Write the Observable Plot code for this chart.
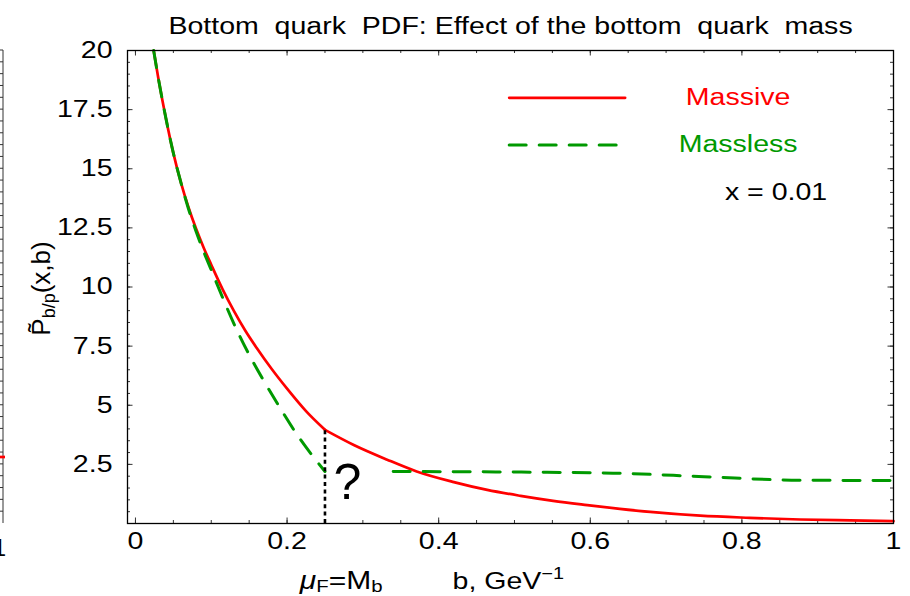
<!DOCTYPE html>
<html><head><meta charset="utf-8">
<script src="https://cdn.jsdelivr.net/npm/d3@7"></script>
<script src="https://cdn.jsdelivr.net/npm/@observablehq/plot@0.6"></script>
<style>body{margin:0;background:#fff} svg{display:block}</style>
</head><body>
<div id="chart"></div>
<script>
// ---- data ----
const massiveB = [0.024,0.03,0.04,0.05,0.06,0.07,0.08,0.09,0.1,0.115,0.13,0.145,0.16,0.18,0.2,0.225,0.25,
                  0.288,0.332,0.371,0.42,0.464,0.508,0.551,0.596,0.639,0.679,0.745,0.81,0.877,0.943,1];
const massiveP = [20,18.86,17.16,15.66,14.41,13.36,12.46,11.66,10.94,9.9,8.98,8.15,7.42,6.52,5.7,4.75,3.96,
                  3.32,2.70,2.2,1.75,1.42,1.17,0.96,0.78,0.62,0.49,0.33,0.24,0.17,0.13,0.1];
const masslessB1 = [0.024,0.03,0.04,0.05,0.06,0.07,0.08,0.09,0.1,0.115,0.132,0.149,0.169,0.189,0.211,0.25];
const masslessP1 = [20,18.86,17.16,15.66,14.41,13.3,12.35,11.5,10.72,9.55,8.3,7.2,6.05,4.98,3.86,2.2];
const masslessB2 = [0.34,0.48,0.63,0.75,0.876,1];
const masslessP2 = [2.20,2.18,2.13,1.98,1.83,1.82];
const matchingB = 0.25; // mu_F = M_b
const xTickLabels = [0,0.2,0.4,0.6,0.8,1];
const yTickLabels = [2.5,5,7.5,10,12.5,15,17.5,20];
const xMinorTicks = d3.range(0, 1.0001, 0.05);
const yMinorTicks = d3.range(0.5, 20.0001, 0.5);
const seriesNames = ["Massive","Massless"];
const noteText = "x = 0.01";
const titleText = "Bottom\u00A0 quark\u00A0 PDF: Effect of the bottom\u00A0 quark\u00A0 mass";

// ---- tables ----
const massive = massiveB.map((b,i)=>({b, p: massiveP[i]}));
const massiveLow = massive.filter(d => d.b <= matchingB);
const massiveHigh = massive.filter(d => d.b >= matchingB);
const massless1 = masslessB1.map((b,i)=>({b, p: masslessP1[i]}));
const massless2 = masslessB2.map((b,i)=>({b, p: masslessP2[i]}));
const pAtMatch = massiveP[massiveB.indexOf(matchingB)];

const RED = "#ff0000", GREEN = "#009900";
const FONT = "'Liberation Sans', Arial, Helvetica, sans-serif";
const W = 910, H = 596, ML = 127, MR = 17, MT = 50, MB = 73;
const PW = W - ML - MR, PH = H - MT - MB;
const FS = 23, STRETCH = 1.24;
const fmt = d => String(d);

// legend layout (in plot coordinates)
const legendX1 = 0.493, legendX2a = 0.646, legendX2b = 0.635, legendTextX = 0.795;
const legendY = [18, 16], noteY = 14, noteX = 0.845;

const chart = Plot.plot({
  width: W, height: H,
  marginLeft: ML, marginRight: MR, marginTop: MT, marginBottom: MB,
  style: {fontFamily: FONT, background: "#fff"},
  x: {domain: [-0.0105, 1], axis: null},
  y: {domain: [0, 20], axis: null},
  marks: [
    // inward ticks on all four sides
    Plot.tickX(xMinorTicks, {x: d=>d, insetTop: PH - 3, stroke: "#333", strokeWidth: 1}),
    Plot.tickX(xTickLabels, {x: d=>d, insetTop: PH - 5.5, stroke: "#333", strokeWidth: 1}),
    Plot.tickX(xMinorTicks, {x: d=>d, insetBottom: PH - 3, stroke: "#333", strokeWidth: 1}),
    Plot.tickX(xTickLabels, {x: d=>d, insetBottom: PH - 5.5, stroke: "#333", strokeWidth: 1}),
    Plot.tickY(yMinorTicks, {y: d=>d, insetRight: PW - 3, stroke: "#333", strokeWidth: 1}),
    Plot.tickY(yTickLabels, {y: d=>d, insetRight: PW - 5.5, stroke: "#333", strokeWidth: 1}),
    Plot.tickY(yMinorTicks, {y: d=>d, insetLeft: PW - 3, stroke: "#333", strokeWidth: 1}),
    Plot.tickY(yTickLabels, {y: d=>d, insetLeft: PW - 5.5, stroke: "#333", strokeWidth: 1}),
    Plot.axisX(xTickLabels, {tickSize: 0, tickPadding: 9, fontSize: FS, label: null, fill: "#000", tickFormat: fmt}),
    Plot.axisY(yTickLabels, {tickSize: 0, tickPadding: 15, fontSize: FS, label: null, fill: "#000", tickFormat: fmt}),
    // curves
    Plot.line(massiveLow, {x: "b", y: "p", stroke: RED, strokeWidth: 2.7, curve: "monotone-x"}),
    Plot.line(massiveHigh, {x: "b", y: "p", stroke: RED, strokeWidth: 2.7, curve: "monotone-x"}),
    Plot.line(massless1, {x: "b", y: "p", stroke: GREEN, strokeWidth: 3, strokeDasharray: "17,13", curve: "monotone-x"}),
    Plot.line(massless2, {x: "b", y: "p", stroke: GREEN, strokeWidth: 3, strokeDasharray: "17,13", curve: "monotone-x"}),
    Plot.ruleX([matchingB], {y1: 0, y2: pAtMatch, stroke: "#000", strokeWidth: 2.6, strokeDasharray: "4,3.4"}),
    Plot.text(["?"], {x: 0.2795, y: 1.72, fontSize: 50, fill: "#000", lineAnchor: "middle", className: "nostretch"}),
    // legend
    Plot.line([[legendX1, legendY[0]], [legendX2a, legendY[0]]], {stroke: RED, strokeWidth: 2.7}),
    Plot.line([[legendX1, legendY[1]], [legendX2b, legendY[1]]], {stroke: GREEN, strokeWidth: 3, strokeDasharray: "17,13"}),
    Plot.text(seriesNames, {x: legendTextX, y: (d,i)=>legendY[i], fill: (d,i)=>[RED,GREEN][i], fontSize: FS, textAnchor: "middle"}),
    Plot.text([noteText], {x: noteX, y: noteY, fontSize: FS, textAnchor: "middle", fill: "#000"}),
    // title
    Plot.text([titleText], {frameAnchor: "top", lineAnchor: "bottom", dy: -17, fontSize: FS, fill: "#000"}),
    Plot.frame({stroke: "#000", strokeWidth: 1.3})
  ]
});
document.getElementById("chart").append(chart);

const svg = d3.select(chart);
const xs = chart.scale("x"), ys = chart.scale("y");

// horizontally stretched text, as in the reference export
svg.selectAll("text").each(function(){
  if (this.closest(".nostretch")) return;
  const w = this.getComputedTextLength();
  if (w > 0) { this.setAttribute("textLength", w * STRETCH); this.setAttribute("lengthAdjust", "spacingAndGlyphs"); }
});

// y axis label: P~_{b/p}(x,b)
const yl = svg.append("text")
  .attr("transform", `translate(50,${(ys.apply(0)+ys.apply(20))/2 + 2}) rotate(-90)`)
  .attr("text-anchor", "middle").attr("font-family", FONT).attr("font-size", 26).attr("fill", "#000");
yl.append("tspan").text("P\u0303");
yl.append("tspan").attr("font-size", 18).attr("dy", 5).text("b/p");
yl.append("tspan").attr("dy", -5).text("(x,b)");

// x axis labels
const xl1 = svg.append("text")
  .attr("transform", `translate(${xs.apply(0.2175)},589) scale(1.2,1)`)
  .attr("text-anchor", "start")
  .attr("font-family", FONT).attr("font-size", 25).attr("fill", "#000");
xl1.append("tspan").attr("font-style", "italic").text("\u03bc");
xl1.append("tspan").attr("font-size", 17).attr("dy", 3).text("F");
xl1.append("tspan").attr("dy", -3).text("=M");
xl1.append("tspan").attr("font-size", 17).attr("dy", 3).text("b");

const xl2 = svg.append("text")
  .attr("transform", `translate(${xs.apply(0.419)},589) scale(${STRETCH},1)`)
  .attr("text-anchor", "start")
  .attr("font-family", FONT).attr("font-size", FS).attr("fill", "#000");
xl2.append("tspan").text("b, GeV");
xl2.append("tspan").attr("font-size", 16).attr("dy", -10).text("\u22121");

// edge of the neighbouring panel visible at the left border
const edge = svg.append("g").attr("stroke", "#333");
edge.append("line").attr("x1", 3).attr("x2", 3).attr("y1", ys.apply(20)).attr("y2", ys.apply(0));
yMinorTicks.forEach(v => edge.append("line").attr("x1", 0).attr("x2", 3).attr("y1", ys.apply(v)).attr("y2", ys.apply(v)));
svg.append("line").attr("x1", 0).attr("x2", 5).attr("y1", 457).attr("y2", 457).attr("stroke", RED).attr("stroke-width", 2.7);
svg.append("text").attr("x", 6).attr("y", 556).attr("text-anchor", "end").attr("font-family", FONT).attr("font-size", FS).text("1");
</script>
</body></html>
